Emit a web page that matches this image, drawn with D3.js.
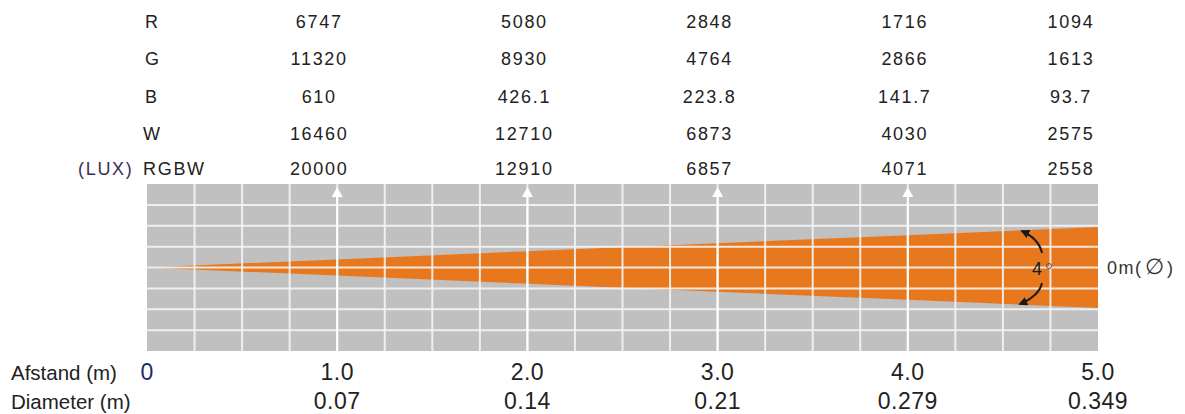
<!DOCTYPE html>
<html>
<head>
<meta charset="utf-8">
<script src="https://cdn.jsdelivr.net/npm/d3@7"></script>
<style>
  html, body { margin: 0; padding: 0; background: #fff; }
  svg { display: block; font-family: "Liberation Sans", Arial, sans-serif; }
</style>
</head>
<body>
<div id="chart"></div>
<script>
// ---- data ----
const distances = [1.0, 2.0, 3.0, 4.0, 5.0];
const distanceLabels = ["1.0", "2.0", "3.0", "4.0", "5.0"];
const diameters = [0.07, 0.14, 0.21, 0.279, 0.349];
const diameterLabels = ["0.07", "0.14", "0.21", "0.279", "0.349"];
const rowNames = ["R", "G", "B", "W", "RGBW"];
const luxR = ["6747", "5080", "2848", "1716", "1094"];
const luxG = ["11320", "8930", "4764", "2866", "1613"];
const luxB = ["610", "426.1", "223.8", "141.7", "93.7"];
const luxW = ["16460", "12710", "6873", "4030", "2575"];
const luxRGBW = ["20000", "12910", "6857", "4071", "2558"];
const beamAngle = 4;

// ---- layout ----
const W = 1185, H = 414;
const svg = d3.select("#chart").append("svg").attr("width", W).attr("height", H);

const x = d3.scaleLinear().domain([0, 5]).range([147, 1098]);
const y = d3.scaleLinear().domain([-0.36, 0.36]).range([351, 184]);

const textColor = "#222";
const colOffsets = [-18, -3, -8, -3, -27];
const rowBaselines = [28, 65, 103, 140, 175];

// grid background
svg.append("rect")
  .attr("x", x(0)).attr("y", y(0.36))
  .attr("width", x(5) - x(0)).attr("height", y(-0.36) - y(0.36))
  .attr("fill", "#c0c0c0");

// beam
const beamPts = [{d: 0, dia: 0}].concat(distances.map((d, i) => ({d: d, dia: diameters[i]})));
const area = d3.area()
  .x(p => x(p.d))
  .y0(p => y(-p.dia / 2))
  .y1(p => y(p.dia / 2));
svg.append("path").datum(beamPts).attr("d", area).attr("fill", "#e8781e");

// grid lines
const vTicks = d3.range(0.25, 5, 0.25);
const hTicks = d3.range(-0.27, 0.28, 0.09);
svg.append("g").selectAll("line").data(vTicks).join("line")
  .attr("x1", d => x(d)).attr("x2", d => x(d))
  .attr("y1", y(0.36)).attr("y2", y(-0.36))
  .attr("stroke", "#f4f4f4").attr("stroke-opacity", 0.9).attr("stroke-width", 2);
svg.append("g").selectAll("line").data(hTicks).join("line")
  .attr("x1", x(0)).attr("x2", x(5))
  .attr("y1", d => y(d)).attr("y2", d => y(d))
  .attr("stroke", "#f4f4f4").attr("stroke-opacity", 0.9).attr("stroke-width", 2);

// arrows at measurement distances
svg.append("g").selectAll("path").data(distances.slice(0, 4)).join("path")
  .attr("d", d => `M${x(d)},187 L${x(d) + 5.5},197 L${x(d) - 5.5},197 Z`)
  .attr("fill", "#ffffff");
svg.append("g").selectAll("line").data(distances.slice(0, 4)).join("line")
  .attr("x1", d => x(d)).attr("x2", d => x(d))
  .attr("y1", 195).attr("y2", y(-0.36))
  .attr("stroke", "#ffffff").attr("stroke-width", 2);

// table
const table = [luxR, luxG, luxB, luxW, luxRGBW];
const tg = svg.append("g").attr("font-size", 18).attr("letter-spacing", 1.7).attr("fill", textColor);
rowNames.forEach((name, r) => {
  tg.append("text").attr("x", r < 3 ? 145 : 143).attr("y", rowBaselines[r]).text(name);
  table[r].forEach((v, c) => {
    tg.append("text")
      .attr("x", x(distances[c]) + colOffsets[c])
      .attr("y", rowBaselines[r])
      .attr("text-anchor", "middle")
      .text(v);
  });
});
tg.append("text").attr("x", 78).attr("y", rowBaselines[4]).attr("fill", "#3b2d58").text("(LUX)");

// angle annotation
const defs = svg.append("defs");
defs.append("marker").attr("id", "ah").attr("viewBox", "0 0 10 10")
  .attr("refX", 8).attr("refY", 5).attr("markerWidth", 4.5).attr("markerHeight", 4.5)
  .attr("orient", "auto")
  .append("path").attr("d", "M0,0 L10,5 L0,10 Z").attr("fill", "#1a1a1a");
svg.append("path").attr("d", "M1042,253 Q1039,239 1022,231")
  .attr("fill", "none").attr("stroke", "#1a1a1a").attr("stroke-width", 2).attr("marker-end", "url(#ah)");
svg.append("path").attr("d", "M1042,283 Q1039,296 1020,304")
  .attr("fill", "none").attr("stroke", "#1a1a1a").attr("stroke-width", 2).attr("marker-end", "url(#ah)");
svg.append("text").attr("x", 1032).attr("y", 275).attr("font-size", 18).attr("fill", "#1a1a1a").text(beamAngle);
svg.append("circle").attr("cx", 1049).attr("cy", 266).attr("r", 2.5).attr("fill", "none").attr("stroke", "#555").attr("stroke-width", 1);

// right label
const rl = svg.append("text").attr("x", 1107).attr("y", 274).attr("font-size", 18).attr("letter-spacing", 1.5).attr("fill", "#333");
rl.append("tspan").text("0m(");
rl.append("tspan").attr("font-size", 22).attr("dx", 2).text("∅");
rl.append("tspan").attr("dx", 2).text(")");

// bottom axis labels
svg.append("text").attr("x", 11).attr("y", 380).attr("font-size", 20.5).attr("fill", textColor).text("Afstand (m)");
svg.append("text").attr("x", 11).attr("y", 409).attr("font-size", 20.5).attr("fill", textColor).text("Diameter (m)");
svg.append("text").attr("x", x(0)).attr("y", 380).attr("font-size", 23).attr("text-anchor", "middle").attr("fill", "#1a2a6a").text("0");
svg.append("g").selectAll("text").data(distanceLabels).join("text")
  .attr("x", (d, i) => x(distances[i])).attr("y", 380)
  .attr("font-size", 23).attr("letter-spacing", 0.5).attr("text-anchor", "middle").attr("fill", textColor).text(d => d);
svg.append("g").selectAll("text").data(diameterLabels).join("text")
  .attr("x", (d, i) => x(distances[i])).attr("y", 409)
  .attr("font-size", 23).attr("letter-spacing", 0.5).attr("text-anchor", "middle").attr("fill", textColor).text(d => d);
</script>
</body>
</html>
